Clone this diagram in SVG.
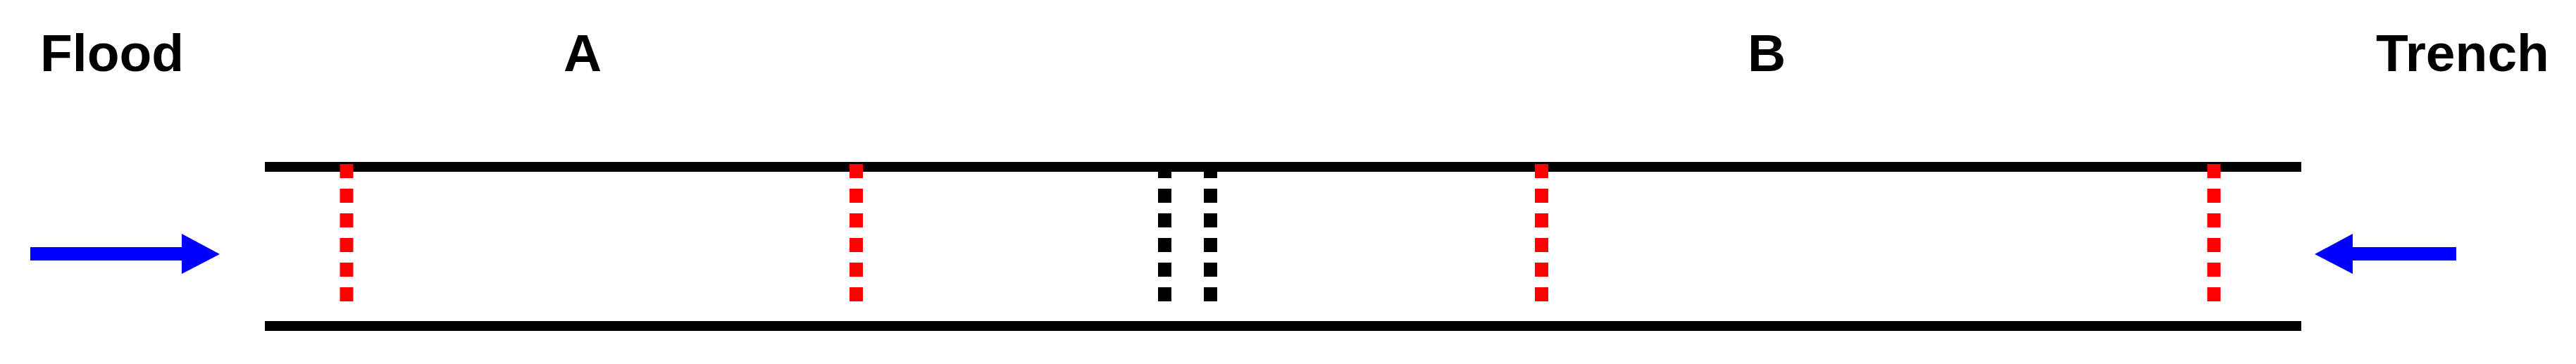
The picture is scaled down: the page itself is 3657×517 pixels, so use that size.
<svg xmlns="http://www.w3.org/2000/svg" width="3657" height="517" viewBox="0 0 3657 517">
<style>
.lbl{font-family:"Liberation Sans",Arial,sans-serif;font-weight:bold;font-size:75px;fill:#000}
.wall{stroke:#000;stroke-width:14;fill:none}
.red{stroke:#ff0000;stroke-width:19;stroke-dasharray:20 15;fill:none}
.blk{stroke:#000;stroke-width:19;stroke-dasharray:20 15;fill:none}
.arrow{fill:#0000ff}
</style>
<rect width="3657" height="517" fill="#fff"/>
<g id="labels">
<text id="flood" class="lbl" x="57" y="101">Flood</text>
<text id="labelA" class="lbl" x="827" y="101" text-anchor="middle">A</text>
<text id="labelB" class="lbl" x="2508" y="101" text-anchor="middle">B</text>
<text id="trench" class="lbl" x="3373" y="101">Trench</text>
</g>
<g id="channel">
<line class="wall" x1="376" y1="237" x2="3267" y2="237"/>
<line class="wall" x1="376" y1="463" x2="3267" y2="463"/>
</g>
<g id="sections">
<line class="red" x1="492" y1="233" x2="492" y2="428"/>
<line class="red" x1="1215.5" y1="233" x2="1215.5" y2="428"/>
<line class="blk" x1="1653.5" y1="233" x2="1653.5" y2="428"/>
<line class="blk" x1="1718.5" y1="233" x2="1718.5" y2="428"/>
<line class="red" x1="2188.5" y1="233" x2="2188.5" y2="428"/>
<line class="red" x1="3143" y1="233" x2="3143" y2="428"/>
</g>
<g id="connectors">
<path class="arrow" d="M43 351 H258 V332 L312 361 L258 389 V370 H43 Z"/>
<path class="arrow" d="M3487 351 H3340 V332 L3286 361 L3340 389 V370 H3487 Z"/>
</g>
</svg>
